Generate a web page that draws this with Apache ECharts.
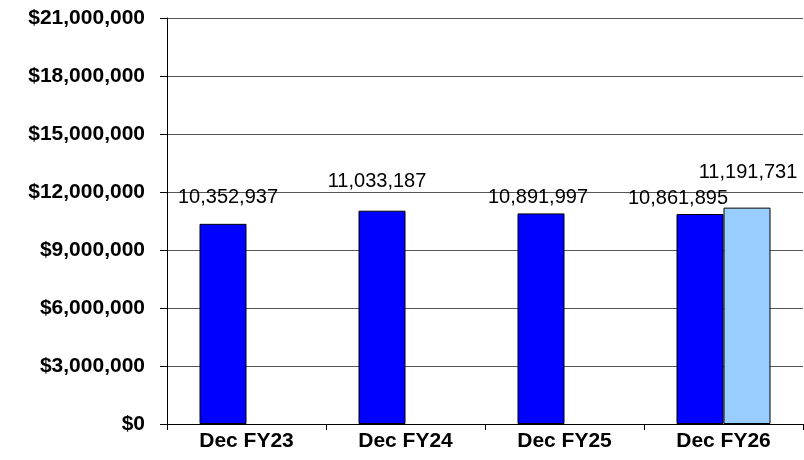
<!DOCTYPE html>
<html>
<head>
<meta charset="utf-8">
<script src="https://cdn.jsdelivr.net/npm/echarts@6/dist/echarts.min.js"></script>
<style>
  html, body { margin: 0; padding: 0; background: #fff; }
  #myChart { width: 804px; height: 460px; }
</style>
</head>
<body>
<div id="myChart"></div>
<script>
// Chart data
const categories = ["Dec FY23", "Dec FY24", "Dec FY25", "Dec FY26"];
const actualValues = [10352937, 11033187, 10891997, 10861895];
const forecastValues = [null, null, null, 11191731];
const yMin = 0;
const yMax = 21000000;
const yStep = 3000000;

// Small nudges so labels sit where the original Excel chart placed them
const actualLabelShift = [[5, -10], [-5, -13], [-3, 0], [-22, 0]];
const forecastLabelShift = [[0, 0], [0, 0], [0, 0], [1, -19]];

const fmtNum = (v) => v.toLocaleString("en-US");
const fmtDollar = (v) => "$" + v.toLocaleString("en-US");

const labelBase = {
  show: true,
  position: "top",
  distance: 6,
  color: "#000",
  fontFamily: "Arial, 'Liberation Sans', sans-serif",
  fontSize: 20,
  formatter: (p) => fmtNum(p.value),
};

function buildData(values, shifts) {
  return values.map((v, i) =>
    v == null ? null : { value: v, label: Object.assign({}, labelBase, { offset: shifts[i] }) }
  );
}

let myChart = echarts.init(document.getElementById("myChart"));

let option = {
  animation: false,
  backgroundColor: "#fff",
  grid: { left: 167, right: 1, top: 18, bottom: 36, containLabel: false },
  xAxis: {
    type: "category",
    data: categories,
    boundaryGap: true,
    axisLine: { lineStyle: { color: "#000", width: 1 } },
    axisTick: { show: true, length: 6, alignWithLabel: false, lineStyle: { color: "#000" } },
    axisLabel: {
      color: "#000",
      fontFamily: "Arial, 'Liberation Sans', sans-serif",
      fontWeight: "bold",
      fontSize: 21,
      margin: 7,
    },
  },
  yAxis: {
    type: "value",
    min: yMin,
    max: yMax,
    interval: yStep,
    axisLine: { show: true, lineStyle: { color: "#000", width: 1 } },
    axisTick: { show: true, length: 7, lineStyle: { color: "#000" } },
    splitLine: { show: true, lineStyle: { color: "#555", width: 1 } },
    axisLabel: {
      color: "#000",
      fontFamily: "Arial, 'Liberation Sans', sans-serif",
      fontWeight: "bold",
      fontSize: 21,
      margin: 22,
      formatter: fmtDollar,
    },
  },
  series: [
    {
      name: "Actual",
      type: "bar",
      data: buildData(actualValues, actualLabelShift),
      barWidth: 47,
      barGap: "0%",
      itemStyle: { color: "#0000FF", borderColor: "#000", borderWidth: 1 },
      label: labelBase,
    },
    {
      name: "Forecast",
      type: "bar",
      data: buildData(forecastValues, forecastLabelShift),
      barWidth: 47,
      barGap: "0%",
      itemStyle: { color: "#99CCFF", borderColor: "#000", borderWidth: 1 },
      label: labelBase,
    },
  ],
};

myChart.setOption(option);
</script>
</body>
</html>
